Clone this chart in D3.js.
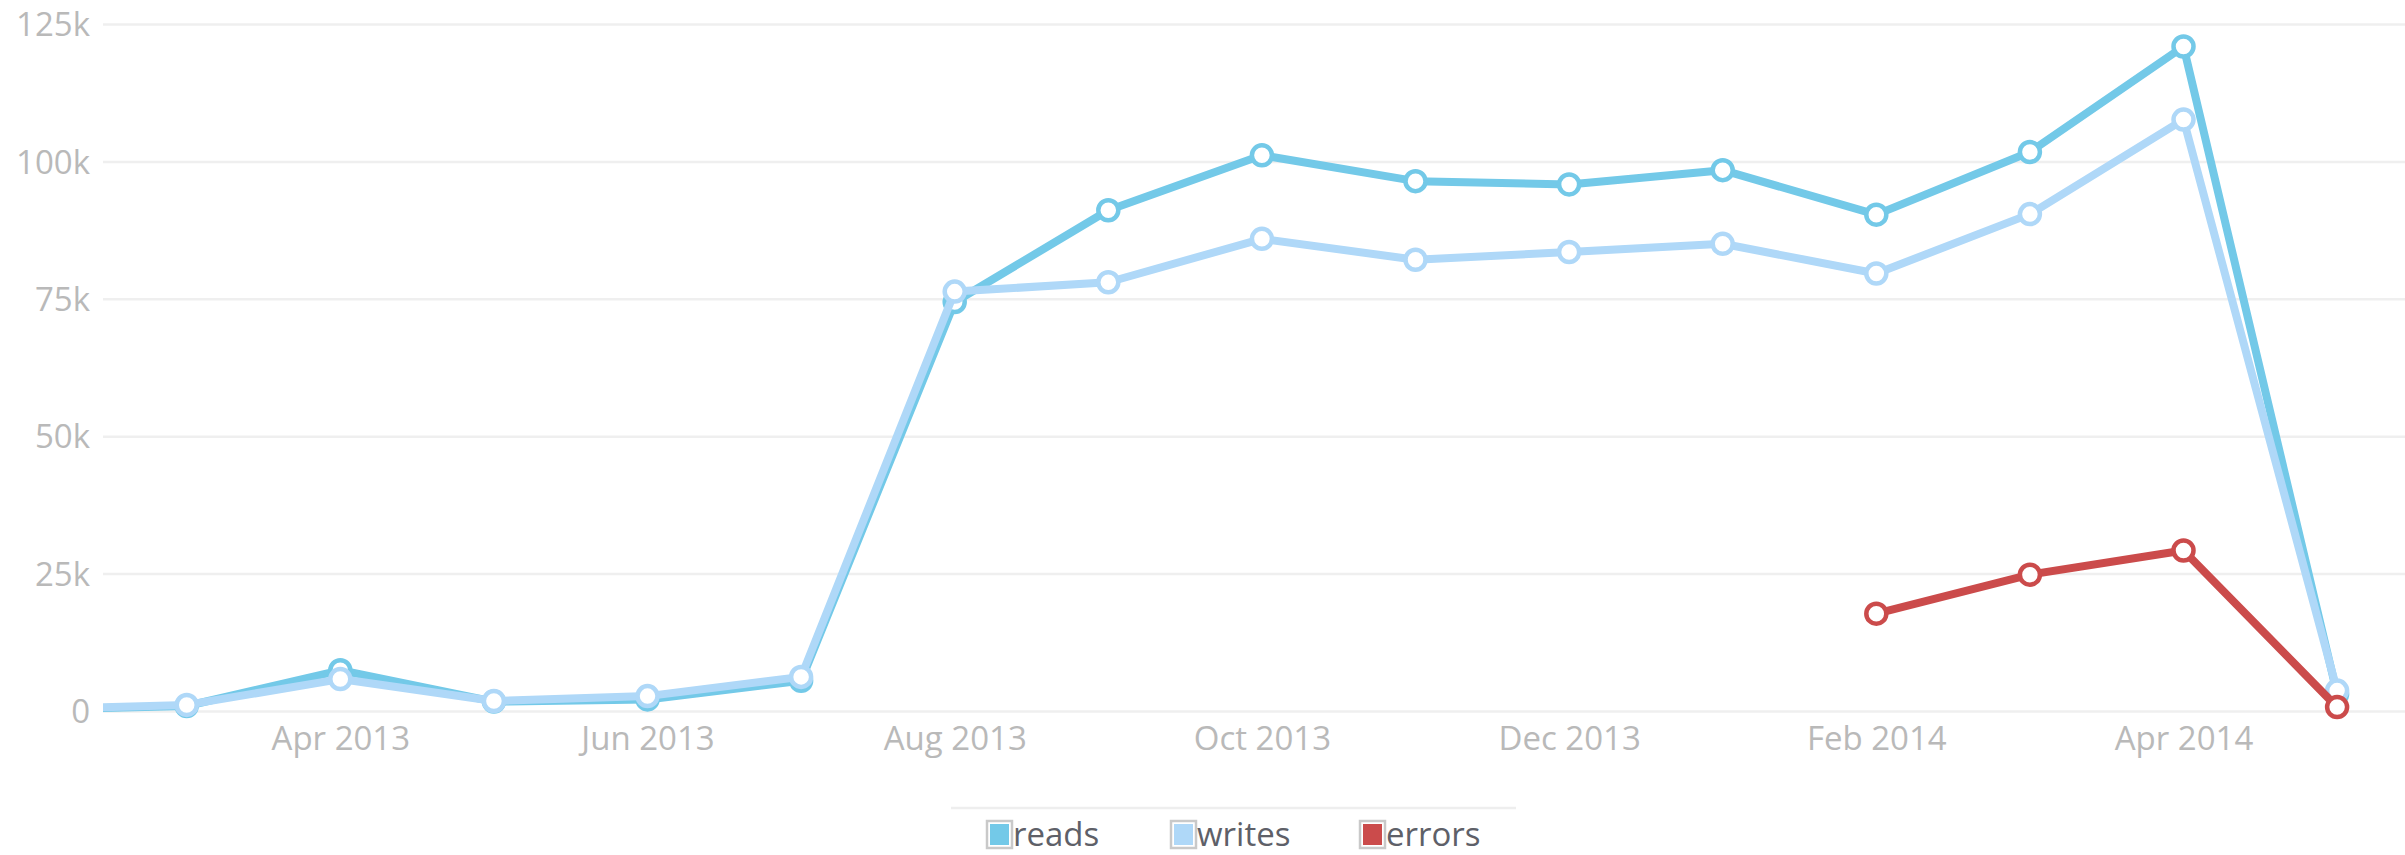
<!DOCTYPE html>
<html>
<head>
<meta charset="utf-8">
<script src="https://cdn.jsdelivr.net/npm/d3@7"></script>
<style>
  html, body { margin: 0; padding: 0; background: #fff; }
  svg { display: block; font-family: "Open Sans", sans-serif; }
</style>
</head>
<body>
<svg id="chart" width="2405" height="855"></svg>
<script>
// ---- data ----
const months = ["Feb 2013","Mar 2013","Apr 2013","May 2013","Jun 2013","Jul 2013","Aug 2013","Sep 2013",
                "Oct 2013","Nov 2013","Dec 2013","Jan 2014","Feb 2014","Mar 2014","Apr 2014","May 2014"];
const reads  = [300, 1000, 7500, 1800, 2200, 5600, 74500, 91200, 101200, 96500, 95900, 98500, 90400, 101800, 121000, 3200];
const writes = [400, 1200, 5900, 1900, 2800, 6300, 76400, 78100, 86000, 82200, 83600, 85100, 79700, 90500, 107700, 3800];
const errors = [null, null, null, null, null, null, null, null, null, null, null, null, 17800, 24900, 29300, 800];
const seriesNames = ["reads", "writes", "errors"];
const seriesColors = ["#73c9e8", "#afd8f8", "#cb4b4b"];
const yTicks = [0, 25000, 50000, 75000, 100000, 125000];
const xTickIdx = [2, 4, 6, 8, 10, 12, 14];

const svg = d3.select("#chart");
const pLeft = 103, pRight = 2405, pTop = 24.5, pBottom = 711.5;

const x = d3.scaleLinear().domain([0.455, 15.442]).range([pLeft, pRight]);
const y = d3.scaleLinear().domain([0, 125000]).range([pBottom, pTop]);

// grid
svg.append("g").selectAll("line").data(yTicks).join("line")
  .attr("x1", pLeft).attr("x2", pRight)
  .attr("y1", d => y(d)).attr("y2", d => y(d))
  .attr("stroke", "#efefef").attr("stroke-width", 2.5);

// y axis
const yAxis = svg.append("g").attr("transform", `translate(${pLeft},0)`)
  .call(d3.axisLeft(y).tickValues(yTicks).tickSize(0).tickPadding(13)
    .tickFormat(d => d === 0 ? "0" : (d / 1000) + "k"));
yAxis.select(".domain").remove();
yAxis.selectAll("text").attr("fill", "#b9b9b9").attr("font-size", 33)
  .attr("font-family", "Open Sans").attr("dy", "0.34em");

// x axis
const xAxis = svg.append("g").attr("transform", `translate(0,${pBottom})`)
  .call(d3.axisBottom(x).tickValues(xTickIdx).tickSize(0).tickPadding(13)
    .tickFormat(i => months[i]));
xAxis.select(".domain").remove();
xAxis.selectAll("text").attr("fill", "#b9b9b9").attr("font-size", 33)
  .attr("font-family", "Open Sans").attr("dy", "0.76em");

// clip
svg.append("clipPath").attr("id", "clip").append("rect")
  .attr("x", pLeft).attr("y", 0).attr("width", pRight - pLeft).attr("height", 855);

const plot = svg.append("g").attr("clip-path", "url(#clip)");
const allSeries = [reads, writes, errors];

allSeries.forEach((vals, si) => {
  const pts = vals.map((v, i) => ({i, v})).filter(d => d.v !== null);
  const line = d3.line().x(d => x(d.i)).y(d => y(d.v));
  plot.append("path").datum(pts)
    .attr("d", line).attr("fill", "none")
    .attr("stroke", seriesColors[si]).attr("stroke-width", 8)
    .attr("stroke-linejoin", "round").attr("stroke-linecap", "round");
  plot.append("g").selectAll("circle").data(pts).join("circle")
    .attr("cx", d => x(d.i)).attr("cy", d => y(d.v)).attr("r", 10)
    .attr("fill", "#fff").attr("stroke", seriesColors[si]).attr("stroke-width", 4.5);
});

// legend
const legend = svg.append("g");
legend.append("line").attr("x1", 951).attr("x2", 1516).attr("y1", 808).attr("y2", 808)
  .attr("stroke", "#eeeeee").attr("stroke-width", 2.5);
const legX = [986, 1170, 1359];
seriesNames.forEach((name, i) => {
  const g = legend.append("g").attr("transform", `translate(${legX[i]},820)`);
  g.append("rect").attr("x", 1).attr("y", 1).attr("width", 25).attr("height", 27)
    .attr("fill", "#fff").attr("stroke", "#c9c9c9").attr("stroke-width", 2.5);
  g.append("rect").attr("x", 4).attr("y", 4).attr("width", 19).attr("height", 21)
    .attr("fill", seriesColors[i]);
  g.append("text").attr("x", 27).attr("y", 26).text(name)
    .attr("font-size", 33).attr("fill", "#5e6068").attr("font-family", "Open Sans");
});
</script>
</body>
</html>
